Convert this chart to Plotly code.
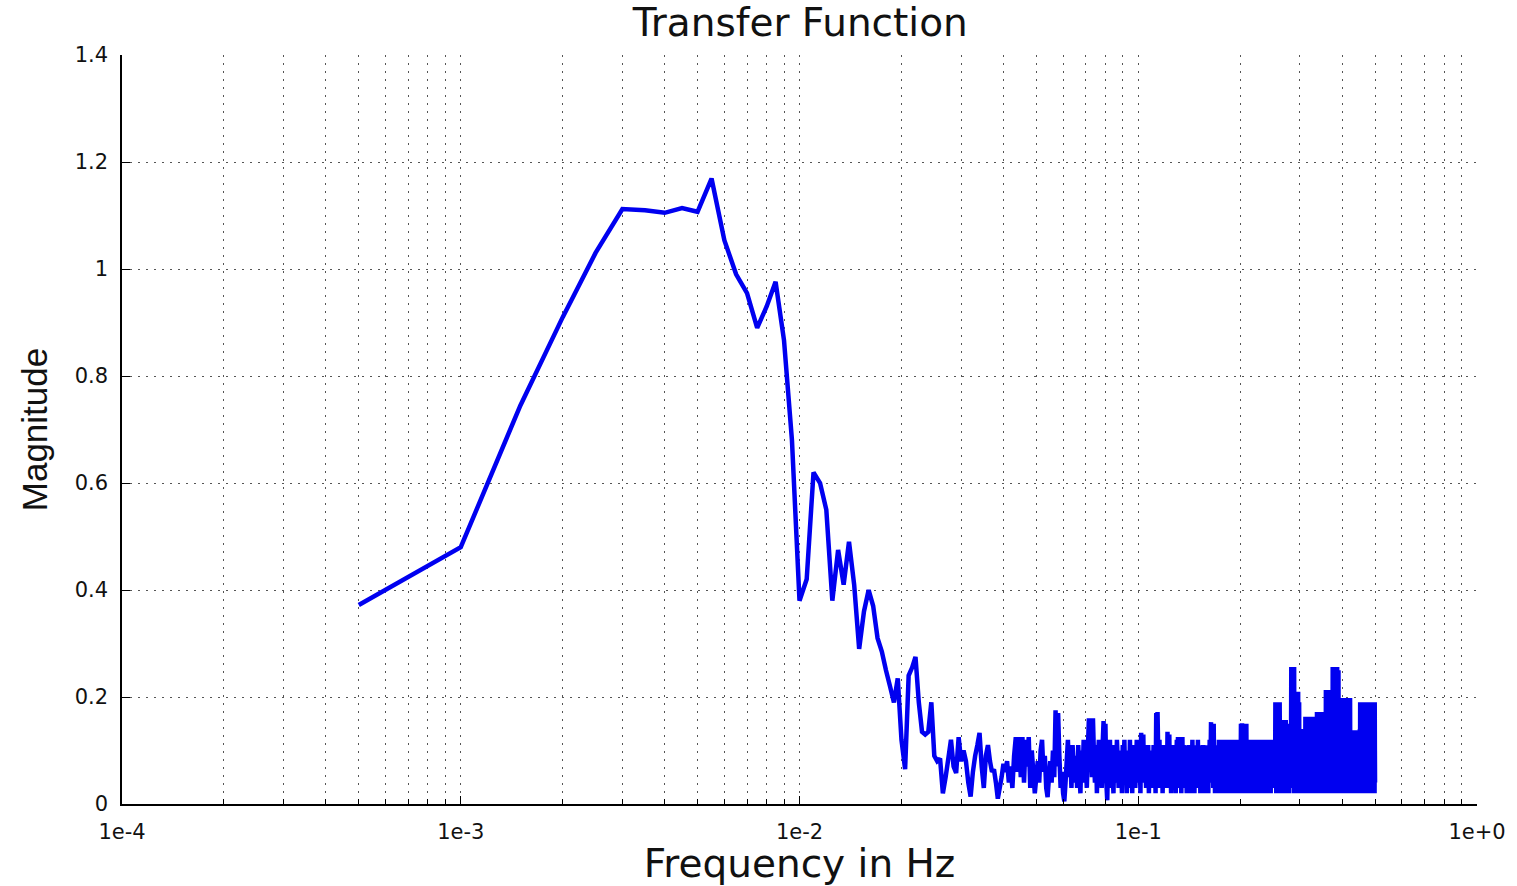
import plotly.graph_objects as go

# ---------------- data ----------------
# FFT bin spacing of the spectrum (Hz); bin k sits at k * freq_step_hz
freq_step_hz = 0.0005

# magnitude per bin (bins 1..60 : 0.0005 .. 0.03 Hz)
mag_bins_001_060 = [
    0.372, 0.48, 0.745, 0.91, 1.03, 1.112, 1.11, 1.105, 1.114, 1.107,
    1.169, 1.054, 0.99, 0.955, 0.89, 0.93, 0.976, 0.867, 0.68, 0.38,
    0.42, 0.62, 0.60, 0.55, 0.38, 0.475, 0.41, 0.49, 0.41, 0.29,
    0.36, 0.40, 0.37, 0.31, 0.285, 0.25, 0.22, 0.19, 0.235, 0.12,
    0.065, 0.24, 0.255, 0.275, 0.19, 0.135, 0.13, 0.135, 0.19, 0.09,
    0.08, 0.085, 0.02, 0.05, 0.085, 0.12, 0.07, 0.058, 0.125, 0.08,
]
# bins 61..200 : 0.0305 .. 0.1 Hz
mag_bins_061_200 = [
    0.10, 0.08, 0.04, 0.014, 0.06, 0.09, 0.11, 0.133, 0.07, 0.03,
    0.09, 0.11, 0.08, 0.06, 0.065, 0.04, 0.01, 0.03, 0.05, 0.075,
    0.06, 0.08, 0.04, 0.07, 0.03, 0.09, 0.125, 0.06, 0.125, 0.05,
    0.125, 0.04, 0.12, 0.07, 0.125, 0.03, 0.10, 0.06, 0.02, 0.05,
    0.08, 0.04, 0.10, 0.12, 0.06, 0.09, 0.03, 0.013, 0.05, 0.08,
    0.04, 0.10, 0.05, 0.175, 0.07, 0.17, 0.09, 0.03, 0.06, 0.02,
    0.005, 0.04, 0.08, 0.12, 0.05, 0.09, 0.03, 0.11, 0.06, 0.04,
    0.09, 0.03, 0.11, 0.06, 0.02, 0.10, 0.05, 0.12, 0.04, 0.08,
    0.03, 0.10, 0.16, 0.07, 0.12, 0.05, 0.16, 0.09, 0.04, 0.11,
    0.02, 0.08, 0.12, 0.05, 0.09, 0.03, 0.11, 0.155, 0.06, 0.15,
    0.04, 0.007, 0.09, 0.05, 0.12, 0.03, 0.10, 0.06, 0.02, 0.11,
    0.07, 0.04, 0.12, 0.08, 0.03, 0.10, 0.05, 0.09, 0.02, 0.11,
    0.06, 0.12, 0.04, 0.09, 0.02, 0.10, 0.07, 0.03, 0.12, 0.05,
    0.08, 0.02, 0.11, 0.06, 0.10, 0.03, 0.07, 0.12, 0.04, 0.09,
]
# bins 201..400 : 0.1005 .. 0.2 Hz
mag_bins_201_400 = [
    0.05, 0.10, 0.02, 0.133, 0.06, 0.09, 0.13, 0.04, 0.11, 0.07,
    0.03, 0.10, 0.06, 0.11, 0.02, 0.08, 0.05, 0.10, 0.03, 0.09,
    0.06, 0.11, 0.04, 0.08, 0.02, 0.17, 0.07, 0.172, 0.10, 0.05,
    0.12, 0.03, 0.09, 0.06, 0.11, 0.02, 0.08, 0.05, 0.10, 0.04,
    0.07, 0.11, 0.03, 0.135, 0.06, 0.09, 0.13, 0.04, 0.10, 0.02,
    0.08, 0.05, 0.11, 0.03, 0.09, 0.06, 0.10, 0.02, 0.08, 0.12,
    0.05, 0.125, 0.07, 0.03, 0.12, 0.06, 0.10, 0.02, 0.09, 0.125,
    0.04, 0.11, 0.07, 0.03, 0.10, 0.05, 0.09, 0.02, 0.11, 0.06,
    0.08, 0.03, 0.11, 0.05, 0.10, 0.02, 0.09, 0.07, 0.12, 0.04,
    0.10, 0.06, 0.02, 0.11, 0.05, 0.08, 0.03, 0.10, 0.06, 0.12,
    0.04, 0.09, 0.06, 0.11, 0.02, 0.08, 0.05, 0.10, 0.03, 0.07,
    0.11, 0.04, 0.09, 0.02, 0.10, 0.06, 0.08, 0.03, 0.11, 0.05,
    0.09, 0.02, 0.10, 0.06, 0.12, 0.04, 0.08, 0.153, 0.05, 0.15,
    0.07, 0.11, 0.03, 0.15, 0.06, 0.09, 0.02, 0.11, 0.05, 0.08,
    0.03, 0.10, 0.06, 0.09, 0.02, 0.12, 0.05, 0.11, 0.03, 0.12,
    0.07, 0.04, 0.12, 0.06, 0.02, 0.12, 0.08, 0.04, 0.12, 0.05,
    0.10, 0.03, 0.12, 0.07, 0.02, 0.11, 0.05, 0.12, 0.04, 0.09,
    0.12, 0.03, 0.08, 0.06, 0.12, 0.02, 0.10, 0.05, 0.12, 0.04,
    0.07, 0.12, 0.03, 0.09, 0.05, 0.12, 0.02, 0.08, 0.11, 0.04,
    0.12, 0.06, 0.03, 0.10, 0.05, 0.12, 0.02, 0.07, 0.04, 0.09,
]
# bins 401..600 : 0.2005 .. 0.3 Hz
mag_bins_401_600 = [
    0.05, 0.15, 0.08, 0.03, 0.151, 0.06, 0.10, 0.02, 0.14, 0.07,
    0.04, 0.15, 0.09, 0.03, 0.11, 0.06, 0.15, 0.02, 0.08, 0.05,
    0.10, 0.03, 0.09, 0.06, 0.11, 0.02, 0.08, 0.05, 0.12, 0.04,
    0.09, 0.12, 0.03, 0.07, 0.12, 0.05, 0.02, 0.12, 0.08, 0.04,
    0.12, 0.06, 0.03, 0.11, 0.05, 0.12, 0.02, 0.09, 0.07, 0.12,
    0.04, 0.10, 0.03, 0.12, 0.06, 0.08, 0.02, 0.12, 0.05, 0.10,
    0.03, 0.12, 0.07, 0.04, 0.09, 0.02, 0.11, 0.06, 0.08, 0.03,
    0.10, 0.05, 0.12, 0.02, 0.09, 0.06, 0.11, 0.04, 0.08, 0.03,
    0.11, 0.06, 0.02, 0.10, 0.05, 0.12, 0.03, 0.09, 0.07, 0.04,
    0.11, 0.02, 0.08, 0.05, 0.10, 0.03, 0.12, 0.06, 0.04, 0.09,
    0.05, 0.11, 0.03, 0.09, 0.06, 0.12, 0.04, 0.19, 0.07, 0.10,
    0.02, 0.18, 0.08, 0.05, 0.19, 0.03, 0.11, 0.06, 0.16, 0.04,
    0.09, 0.02, 0.19, 0.07, 0.12, 0.03, 0.10, 0.05, 0.157, 0.08,
    0.03, 0.15, 0.06, 0.11, 0.02, 0.157, 0.09, 0.04, 0.12, 0.06,
    0.15, 0.03, 0.10, 0.07, 0.157, 0.02, 0.11, 0.05, 0.14, 0.04,
    0.09, 0.12, 0.03, 0.15, 0.06, 0.10, 0.02, 0.14, 0.07, 0.11,
    0.04, 0.13, 0.08, 0.03, 0.12, 0.256, 0.06, 0.20, 0.04, 0.25,
    0.10, 0.03, 0.21, 0.07, 0.14, 0.02, 0.256, 0.09, 0.05, 0.18,
    0.06, 0.13, 0.03, 0.21, 0.08, 0.12, 0.04, 0.21, 0.10, 0.02,
    0.15, 0.06, 0.21, 0.03, 0.11, 0.07, 0.19, 0.04, 0.13, 0.09,
]
# bins 601..800 : 0.3005 .. 0.4 Hz
mag_bins_601_800 = [
    0.05, 0.12, 0.02, 0.10, 0.07, 0.13, 0.03, 0.09, 0.14, 0.04,
    0.11, 0.06, 0.02, 0.13, 0.08, 0.03, 0.12, 0.05, 0.10, 0.02,
    0.14, 0.06, 0.163, 0.03, 0.11, 0.08, 0.16, 0.02, 0.12, 0.05,
    0.09, 0.163, 0.03, 0.13, 0.06, 0.10, 0.02, 0.16, 0.07, 0.04,
    0.12, 0.03, 0.163, 0.08, 0.02, 0.11, 0.06, 0.15, 0.04, 0.10,
    0.02, 0.163, 0.07, 0.12, 0.03, 0.09, 0.16, 0.05, 0.02, 0.13,
    0.08, 0.04, 0.163, 0.06, 0.11, 0.02, 0.14, 0.07, 0.03, 0.10,
    0.05, 0.12, 0.02, 0.172, 0.08, 0.04, 0.14, 0.06, 0.17, 0.03,
    0.11, 0.07, 0.172, 0.02, 0.12, 0.05, 0.16, 0.03, 0.10, 0.172,
    0.06, 0.02, 0.13, 0.08, 0.172, 0.04, 0.11, 0.03, 0.15, 0.06,
    0.10, 0.02, 0.15, 0.07, 0.12, 0.03, 0.14, 0.05, 0.09, 0.15,
    0.02, 0.12, 0.06, 0.15, 0.03, 0.213, 0.08, 0.11, 0.02, 0.21,
    0.06, 0.13, 0.03, 0.213, 0.09, 0.04, 0.16, 0.07, 0.02, 0.213,
    0.10, 0.05, 0.18, 0.03, 0.12, 0.21, 0.06, 0.02, 0.14, 0.08,
    0.03, 0.17, 0.05, 0.11, 0.02, 0.18, 0.07, 0.13, 0.04, 0.256,
    0.09, 0.03, 0.22, 0.06, 0.15, 0.02, 0.256, 0.10, 0.04, 0.19,
    0.07, 0.03, 0.24, 0.12, 0.02, 0.256, 0.08, 0.05, 0.20, 0.03,
    0.13, 0.06, 0.256, 0.02, 0.10, 0.18, 0.04, 0.14, 0.07, 0.25,
    0.03, 0.11, 0.06, 0.175, 0.02, 0.12, 0.08, 0.17, 0.04, 0.10,
    0.02, 0.175, 0.07, 0.13, 0.03, 0.16, 0.05, 0.11, 0.175, 0.02,
]
# bins 801..1000 : 0.4005 .. 0.5 Hz
mag_bins_801_1000 = [
    0.09, 0.198, 0.04, 0.13, 0.06, 0.02, 0.19, 0.08, 0.11, 0.03,
    0.198, 0.05, 0.12, 0.02, 0.17, 0.07, 0.10, 0.198, 0.03, 0.14,
    0.06, 0.02, 0.198, 0.09, 0.12, 0.04, 0.18, 0.07, 0.02, 0.198,
    0.05, 0.13, 0.03, 0.16, 0.08, 0.198, 0.02, 0.11, 0.06, 0.19,
    0.04, 0.12, 0.02, 0.198, 0.07, 0.13, 0.03, 0.10, 0.138, 0.05,
    0.02, 0.12, 0.07, 0.138, 0.03, 0.09, 0.13, 0.05, 0.02, 0.138,
    0.08, 0.04, 0.12, 0.06, 0.138, 0.02, 0.10, 0.07, 0.13, 0.03,
    0.11, 0.05, 0.138, 0.02, 0.09, 0.12, 0.04, 0.138, 0.06, 0.02,
    0.13, 0.08, 0.03, 0.138, 0.05, 0.11, 0.02, 0.12, 0.07, 0.138,
    0.04, 0.10, 0.02, 0.13, 0.06, 0.138, 0.03, 0.09, 0.12, 0.05,
    0.02, 0.14, 0.07, 0.19, 0.03, 0.12, 0.05, 0.19, 0.02, 0.10,
    0.16, 0.04, 0.13, 0.19, 0.02, 0.08, 0.19, 0.05, 0.11, 0.03,
    0.19, 0.06, 0.02, 0.14, 0.09, 0.19, 0.03, 0.12, 0.05, 0.18,
    0.02, 0.19, 0.07, 0.11, 0.03, 0.19, 0.05, 0.13, 0.02, 0.19,
    0.08, 0.04, 0.15, 0.02, 0.19, 0.06, 0.12, 0.03, 0.14, 0.05,
    0.10, 0.02, 0.14, 0.07, 0.03, 0.19, 0.05, 0.12, 0.02, 0.19,
    0.06, 0.13, 0.03, 0.19, 0.08, 0.02, 0.17, 0.05, 0.19, 0.03,
    0.11, 0.19, 0.02, 0.14, 0.06, 0.19, 0.03, 0.12, 0.05, 0.19,
    0.02, 0.16, 0.08, 0.19, 0.03, 0.13, 0.19, 0.05, 0.02, 0.19,
    0.07, 0.12, 0.03, 0.19, 0.05, 0.18, 0.02, 0.19, 0.10, 0.04,
]

x_decades = [1e-4, 1e-3, 1e-2, 1e-1, 1e0]
x_tick_text = ["1e-4", "1e-3", "1e-2", "1e-1", "1e+0"]
y_tick_vals = [0, 0.2, 0.4, 0.6, 0.8, 1.0, 1.2, 1.4]
y_tick_text = ["0", "0.2", "0.4", "0.6", "0.8", "1", "1.2", "1.4"]

magnitude = (mag_bins_001_060 + mag_bins_061_200 + mag_bins_201_400
             + mag_bins_401_600 + mag_bins_601_800 + mag_bins_801_1000)
freq = [freq_step_hz * (i + 1) for i in range(len(magnitude))]

# minor (2..9) grid positions of the log axis
x_minor = [m * d for d in x_decades[:-1] for m in range(2, 10)]

# ---------------- figure ----------------
fig = go.Figure()
fig.add_trace(go.Scatter(
    x=freq, y=magnitude, mode="lines",
    line=dict(color="#0000f0", width=4.5, simplify=False),
    showlegend=False,
))

grid_col = "#555555"
fig.update_layout(
    width=1517, height=886,
    margin=dict(l=122, r=40, t=55, b=82),
    paper_bgcolor="white", plot_bgcolor="white",
    title=dict(text="Transfer Function", x=0.5275, xanchor="center",
               y=1 - 22 / 886, yanchor="middle", yref="container",
               font=dict(family="DejaVu Sans", size=39, color="#111111")),
    font=dict(family="DejaVu Sans", color="#111111"),
)
fig.update_xaxes(
    type="log", range=[-4, 0], automargin=False,
    tickmode="array", tickvals=x_decades, ticktext=x_tick_text,
    tickfont=dict(family="DejaVu Sans", size=21, color="#111111"),
    ticklabelstandoff=8,
    ticks="inside", ticklen=8, tickcolor="black", tickwidth=1,
    showgrid=True, gridcolor=grid_col, griddash="2px,6px", gridwidth=1,
    minor=dict(tickmode="array", tickvals=x_minor, showgrid=True,
               gridcolor=grid_col, griddash="2px,6px", gridwidth=1,
               ticks="inside", ticklen=5, tickcolor="black"),
    showline=True, linecolor="black", linewidth=1.5, mirror=False,
    zeroline=False,
    title=dict(text="Frequency in Hz", standoff=5,
               font=dict(family="DejaVu Sans", size=39, color="#111111")),
)
fig.update_yaxes(
    range=[0, 1.4], automargin=False,
    tickmode="array", tickvals=y_tick_vals, ticktext=y_tick_text,
    tickfont=dict(family="DejaVu Sans", size=21, color="#111111"),
    ticklabelstandoff=8,
    ticks="inside", ticklen=8, tickcolor="black",
    showgrid=True, gridcolor=grid_col, griddash="2px,6px", gridwidth=1,
    showline=True, linecolor="black", linewidth=1.5, mirror=False,
    zeroline=False,
    title=dict(text="Magnitude", standoff=16,
               font=dict(family="Liberation Sans", size=35, color="#111111")),
)

fig.write_html("out.html")
